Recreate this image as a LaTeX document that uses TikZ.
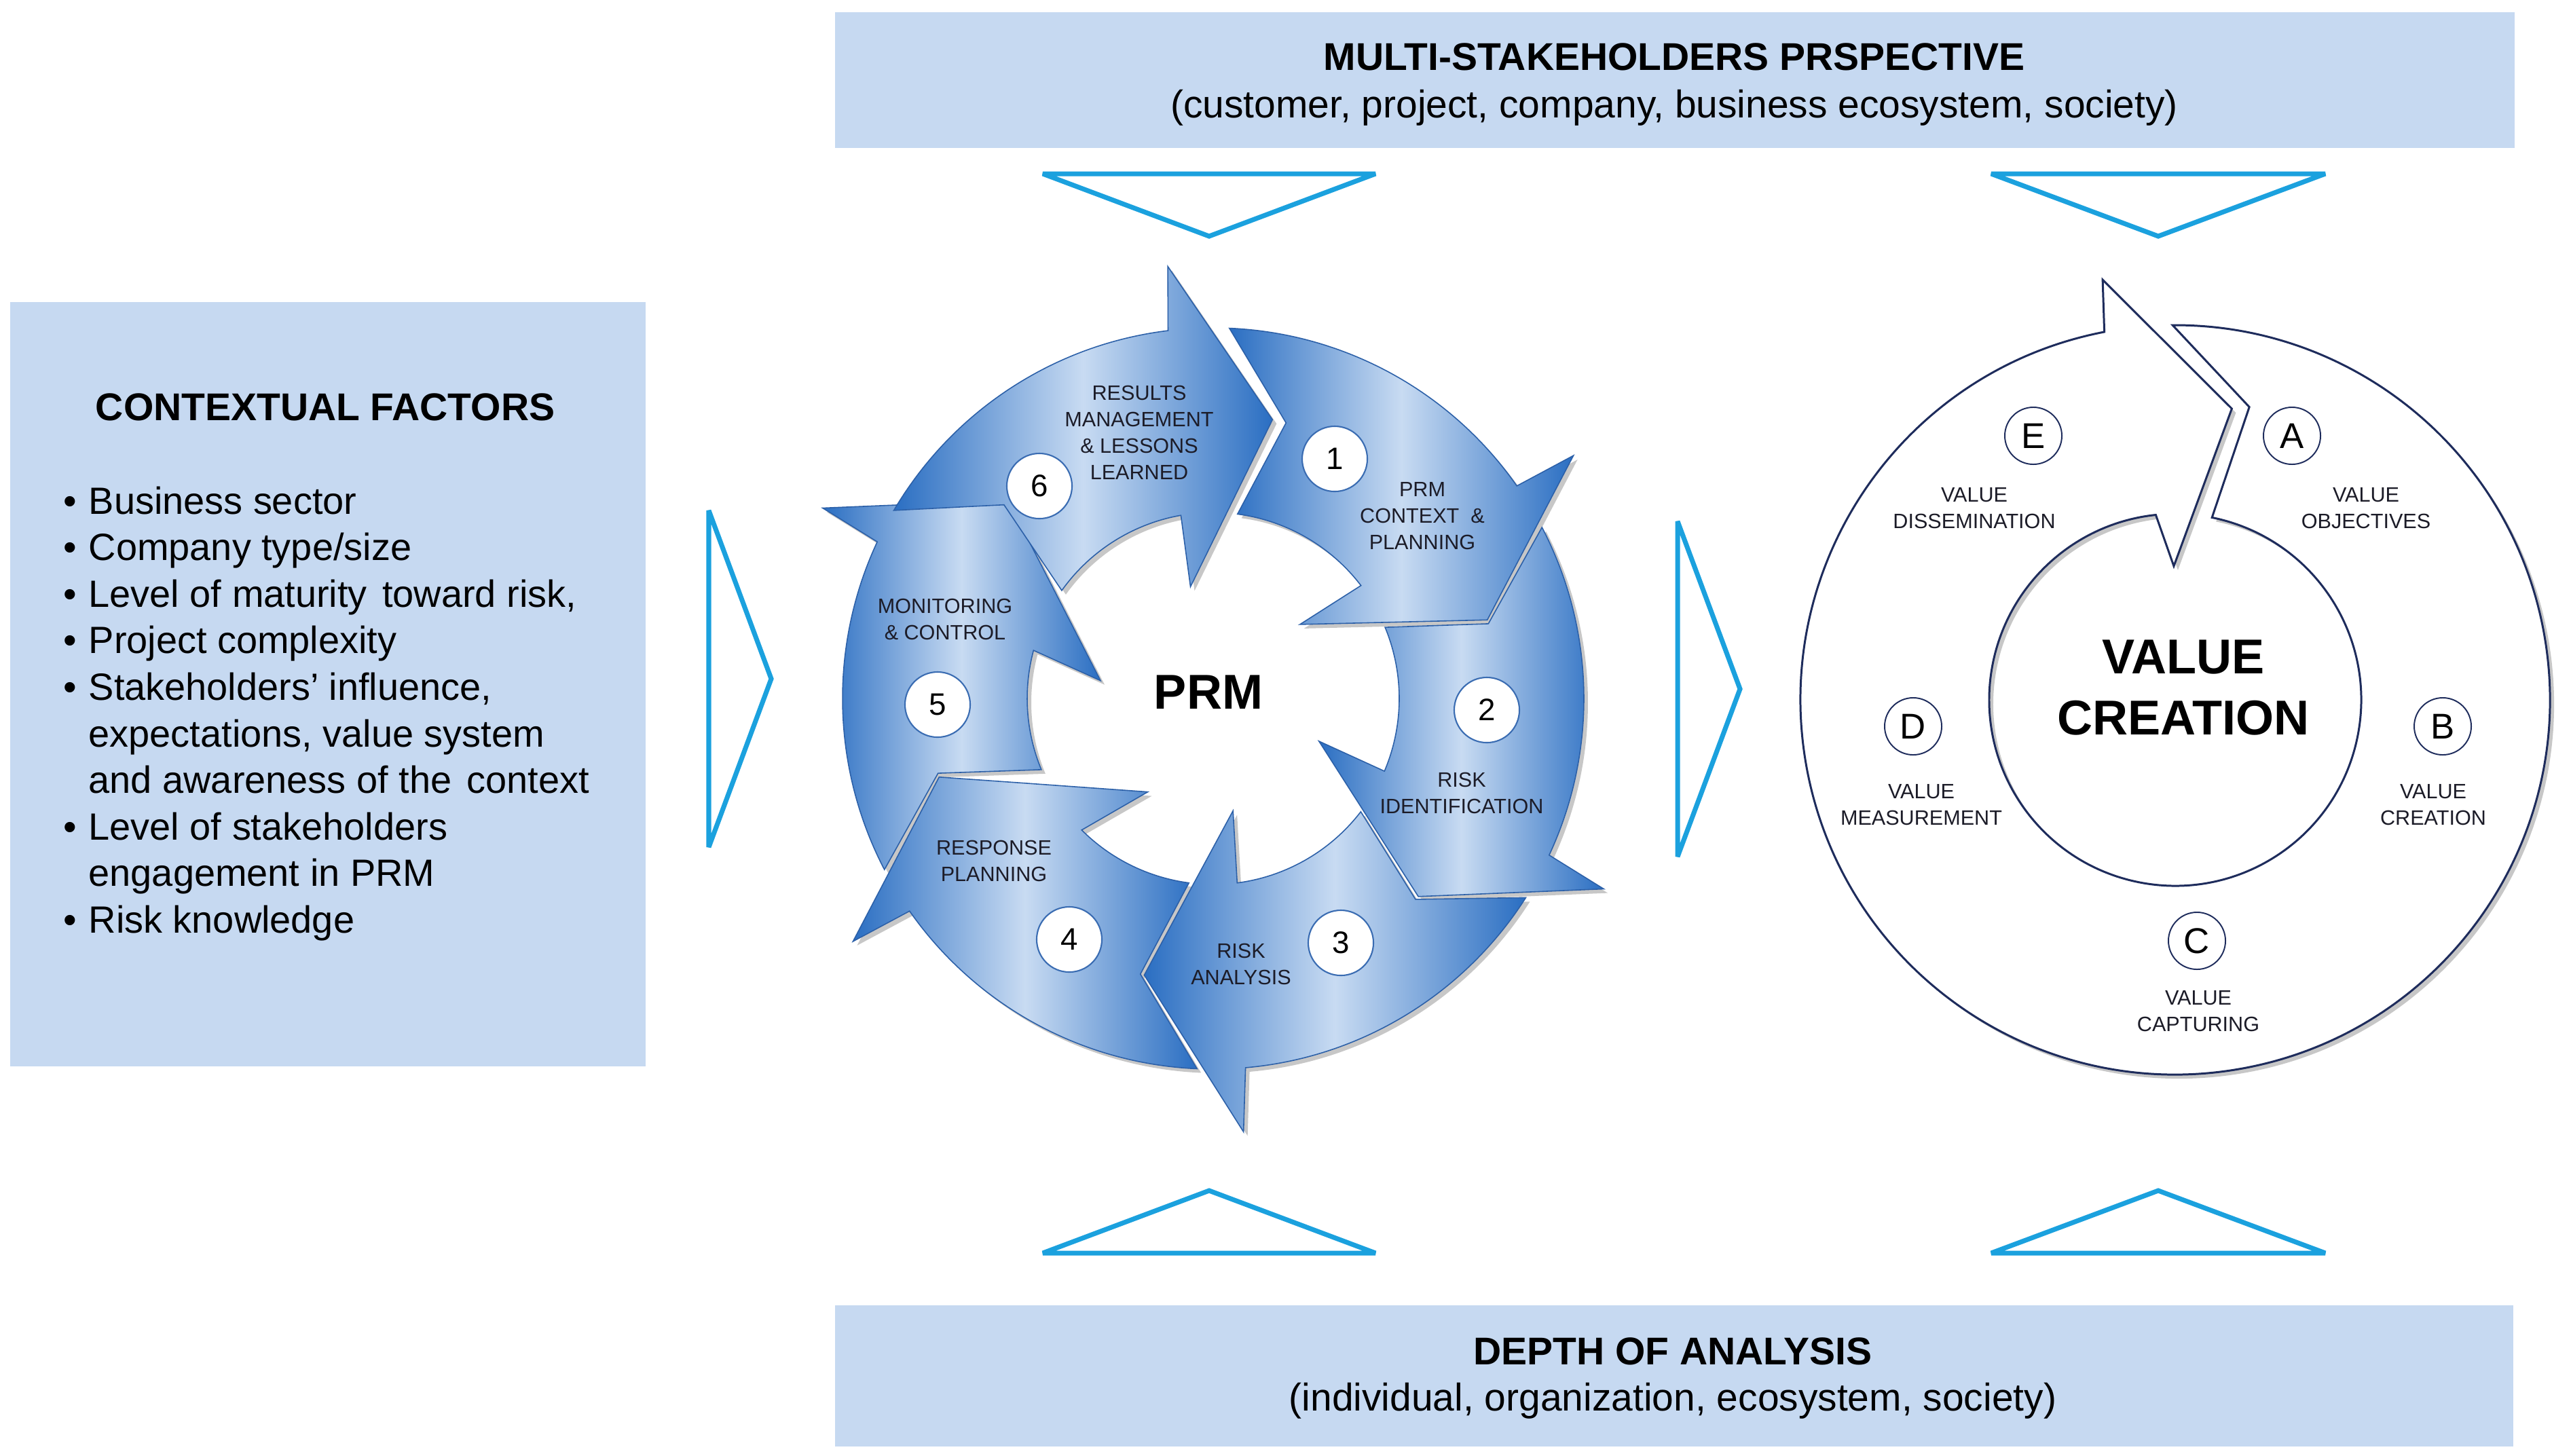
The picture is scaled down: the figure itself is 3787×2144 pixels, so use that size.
\documentclass[tikz,border=0pt]{standalone}
\usepackage{fontspec}
\setmainfont{Liberation Sans}
\definecolor{boxblue}{RGB}{198,217,241}
\definecolor{tricyan}{RGB}{27,161,222}
\definecolor{prmdark}{RGB}{42,110,194}
\definecolor{prmlight}{RGB}{200,219,242}
\definecolor{prmedge}{RGB}{44,96,168}
\definecolor{navyline}{RGB}{30,44,92}
\definecolor{numedge}{RGB}{58,108,178}
\definecolor{lbltext}{RGB}{28,28,40}
\newcommand{\prmshape}[3]{({#1-11.5}:546) -- ({#1+0.8}:420) -- ({#1-6.5}:274) arc[start angle={#1-6.5}, end angle={#1+#3}, radius=274] -- ({#1+#2}:168) -- ({#1+60}:420) -- ({#1+42}:640) -- ({#1+41}:546) arc[start angle={#1+41}, end angle={#1-11.5}, radius=546] -- cycle}
\newcommand{\valshape}{(-90.4:552) -- (-75.8:445) -- (-78.6:274) arc[start angle=-78.6, end angle=264, radius=274] -- (269.4:197) -- (281:437) -- (260.2:628) -- (259.1:552) arc[start angle=259.1, end angle=-90.4, radius=552] -- cycle}
\tikzset{
  infobox/.style={fill=boxblue, draw=none, inner sep=0pt, anchor=north west},
  opentri/.style={draw=tricyan, line width=2pt, line join=miter, miter limit=3},
  prmarrow/.style={left color=prmdark, right color=prmdark, middle color=prmlight, draw=prmedge, line width=0.45pt},
  shadowfill/.style={fill=black, opacity=0.22},
  numcirc/.style={circle, draw=numedge, fill=white, line width=0.6pt, minimum size=0.96cm, inner sep=0pt, font=\fontsize{13}{13}\selectfont},
  letcirc/.style={circle, draw=navyline, fill=white, line width=0.55pt, minimum size=0.84cm, inner sep=0pt, font=\fontsize{15}{15}\selectfont},
  steplbl/.style={align=center, font=\fontsize{8.7}{11.1}\selectfont, text=lbltext, inner sep=0pt},
  boxtitle/.style={font=\fontsize{16.2}{19.5}\selectfont\bfseries, inner sep=0pt},
  boxtext/.style={font=\fontsize{16.2}{19.5}\selectfont, inner sep=0pt},
  listtext/.style={font=\fontsize{15.9}{19.5}\selectfont, inner sep=0pt},
  bigtitle/.style={font=\fontsize{20.5}{25.6}\selectfont\bfseries, align=center, inner sep=0pt},
}
\begin{document}
\begin{tikzpicture}[x=0.01cm, y=-0.01cm]
\useasboundingbox (0,0) rectangle (3787,2144);
\fill[white] (0,0) rectangle (3787,2144);
% boxes
\node[infobox, minimum width=24.73cm, minimum height=2.00cm] (topbox) at (1229,17) {};
\node[infobox, minimum width=24.71cm, minimum height=2.08cm] (botbox) at (1229,1922) {};
\node[infobox, minimum width=9.36cm, minimum height=11.26cm] (ctxbox) at (14,444) {};
\node[boxtitle, anchor=base] (toptitle) at (2466,103) {MULTI-STAKEHOLDERS PRSPECTIVE};
\node[boxtext, anchor=base] (topsub) at (2466,173) {(customer, project, company, business ecosystem, society)};
\node[boxtitle, anchor=base] (bottitle) at (2464,2010) {DEPTH OF ANALYSIS};
\node[boxtext, anchor=base] (botsub) at (2464,2078) {(individual, organization, ecosystem, society)};
\node[boxtitle, anchor=base] (ctxtitle) at (479,619) {CONTEXTUAL FACTORS};
% list
\foreach \i/\yy/\txt/\bul in {1/757/{Business sector}/1, 2/825.6/{Company type/size}/1, 3/894.2/{Level of maturity\hspace{0.12em} toward risk,}/1, 4/962.8/{Project complexity}/1, 5/1031.4/{Stakeholders’ influence,}/1, 6/1100/{expectations, value system}/0, 7/1168.6/{and awareness of the\hspace{0.12em} context}/0, 8/1237.2/{Level of stakeholders}/1, 9/1305.8/{engagement in PRM}/0, 10/1374.4/{Risk knowledge}/1}{
  \node[listtext, anchor=base west] (line\i) at (130,\yy) {\txt};
  \ifnum\bul=1 \node[listtext, anchor=base west] (bullet\i) at (93,\yy) {•}; \fi
}
% triangles
\draw[opentri] (1536,256) -- (2026,256) -- (1781,348) -- cycle;
\draw[opentri] (2933,256) -- (3425,256) -- (3179,348) -- cycle;
\draw[opentri] (1536,1846) -- (2026,1846) -- (1781,1754) -- cycle;
\draw[opentri] (2933,1846) -- (3425,1846) -- (3179,1754) -- cycle;
\draw[opentri] (1044,752) -- (1044,1248) -- (1136,1000) -- cycle;
\draw[opentri] (2471,768) -- (2471,1262) -- (2563,1015) -- cycle;
% PRM cycle
\begin{scope}[shift={(1787,1029)}]
  \begin{scope}[shift={(6,6)}]
    \fill[shadowfill] \prmshape{284}{35.5}{38.6};
    \fill[shadowfill] \prmshape{344}{38}{39};
    \fill[shadowfill] \prmshape{44}{36}{38.6};
    \fill[shadowfill] \prmshape{104}{21}{31};
    \fill[shadowfill] \prmshape{164}{25}{31};
    \fill[shadowfill] \prmshape{222}{36.5}{38};
  \end{scope}
  \path[prmarrow] \prmshape{284}{35.5}{38.6};
  \path[prmarrow] \prmshape{344}{38}{39};
  \path[prmarrow] \prmshape{44}{36}{38.6};
  \path[prmarrow] \prmshape{104}{21}{31};
  \path[prmarrow] \prmshape{164}{25}{31};
  \path[prmarrow] \prmshape{222}{36.5}{38};
\end{scope}
\node[bigtitle] (prm) at (1780,1020) {PRM};
\node[numcirc] (n1) at (1966,676) {1};
\node[numcirc] (n2) at (2190,1046) {2};
\node[numcirc] (n3) at (1975,1389) {3};
\node[numcirc] (n4) at (1575,1384) {4};
\node[numcirc] (n5) at (1381,1038) {5};
\node[numcirc] (n6) at (1531,716) {6};
\node[steplbl] (s6) at (1678,637) {RESULTS\\MANAGEMENT\\\& LESSONS\\LEARNED};
\node[steplbl] (s1) at (2095,760) {PRM\\CONTEXT\ \ \&\\PLANNING};
\node[steplbl] (s2) at (2153,1168) {RISK\\IDENTIFICATION};
\node[steplbl] (s3) at (1828,1420) {RISK\\ANALYSIS};
\node[steplbl] (s4) at (1464,1268) {RESPONSE\\PLANNING};
\node[steplbl] (s5) at (1392,912) {MONITORING\\\& CONTROL};
% value creation cycle
\begin{scope}[shift={(3204,1031)}]
  \fill[shadowfill, shift={(6,6)}] \valshape;
  \path[fill=white, draw=navyline, line width=0.85pt] \valshape;
\end{scope}
\node[bigtitle] (vc) at (3216,1013) {VALUE\\CREATION};
\node[letcirc] (cA) at (3376,642) {A};
\node[letcirc] (cB) at (3598,1070) {B};
\node[letcirc] (cC) at (3236,1386) {C};
\node[letcirc] (cD) at (2818,1070) {D};
\node[letcirc] (cE) at (2995,642) {E};
\node[steplbl] (vA) at (3485,749) {VALUE\\OBJECTIVES};
\node[steplbl] (vB) at (3584,1186) {VALUE\\CREATION};
\node[steplbl] (vC) at (3238,1490) {VALUE\\CAPTURING};
\node[steplbl] (vD) at (2830,1186) {VALUE\\MEASUREMENT};
\node[steplbl] (vE) at (2908,749) {VALUE\\DISSEMINATION};
\end{tikzpicture}
\end{document}
